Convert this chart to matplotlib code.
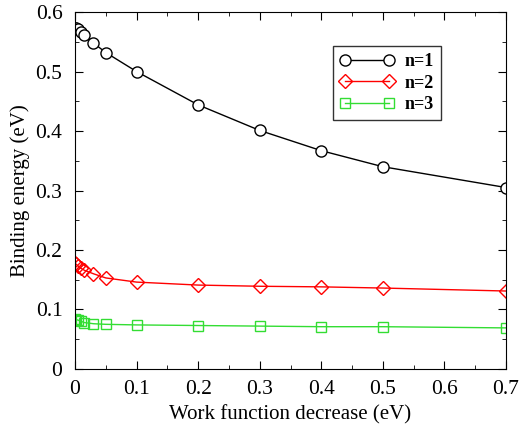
import matplotlib.pyplot as plt
from matplotlib.ticker import MultipleLocator

plt.rcParams['font.family'] = ['Liberation Serif', 'DejaVu Serif']

wf = [0, 0.002, 0.005, 0.01, 0.015, 0.03, 0.05, 0.1, 0.2, 0.3, 0.4, 0.5, 0.7]
n1 = [0.574, 0.573, 0.571, 0.566, 0.561, 0.548, 0.532, 0.500, 0.444, 0.401, 0.367, 0.340, 0.305]
n2 = [0.178, 0.176, 0.173, 0.169, 0.166, 0.160, 0.153, 0.146, 0.141, 0.139, 0.138, 0.136, 0.131]
n3 = [0.084, 0.083, 0.082, 0.080, 0.078, 0.076, 0.075, 0.074, 0.073, 0.072, 0.071, 0.071, 0.069]

fig = plt.figure(figsize=(5.19, 4.32), dpi=100)
ax = fig.add_axes([0.1445, 0.146, 0.8305, 0.826])

ax.plot(wf, n1, color="black", lw=1, marker="o", ms=8, mfc="white", mec="black", mew=1, label="n=1")
ax.plot(wf, n2, color="red", lw=1, marker="D", ms=7.5, mfc="none", mec="red", mew=1, label="n=2")
ax.plot(wf, n3, color="#33dd33", lw=1, marker="s", ms=7.5, mfc="none", mec="#33dd33", mew=1, label="n=3")

ax.set_xlim(0, 0.7)
ax.set_ylim(0, 0.6)
ax.xaxis.set_major_locator(MultipleLocator(0.1))
ax.xaxis.set_minor_locator(MultipleLocator(0.05))
ax.yaxis.set_major_locator(MultipleLocator(0.1))
ax.yaxis.set_minor_locator(MultipleLocator(0.05))
ax.xaxis.set_major_formatter(plt.FuncFormatter(lambda v, p: "0" if v == 0 else f"{v:.1f}"))
ax.yaxis.set_major_formatter(plt.FuncFormatter(lambda v, p: "0" if v == 0 else f"{v:.1f}"))
ax.tick_params(which="both", direction="in", top=True, right=True, labelsize=15.5)
ax.tick_params(which="major", length=6)
ax.tick_params(which="minor", length=3)
ax.tick_params(axis="x", pad=8)
ax.tick_params(axis="y", pad=9)

ax.set_xlabel("Work function decrease (eV)", fontsize=15)
ax.set_ylabel("Binding energy (eV)", fontsize=15, labelpad=4)

leg = ax.legend(loc="upper right", bbox_to_anchor=(0.85, 0.905), borderaxespad=0, numpoints=2,
                fancybox=False, edgecolor="black", prop={"weight": "bold", "size": 13},
                handlelength=3, labelspacing=0.25, handletextpad=0.6)
leg.get_frame().set_linewidth(1)

plt.savefig("out.png")
